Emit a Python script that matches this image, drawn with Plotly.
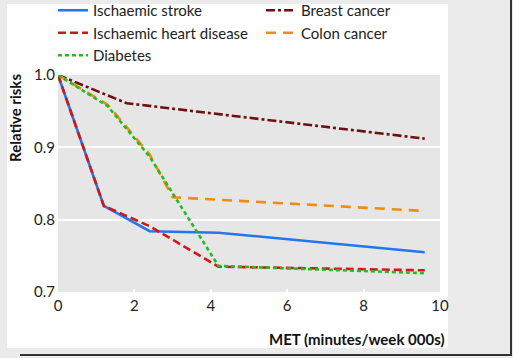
import plotly.graph_objects as go

# ---- data ----
stroke_x = [0, 1.2, 2.4, 4.2, 9.6]
stroke_y = [1.0, 0.819, 0.784, 0.782, 0.755]

breast_x = [0, 1.8, 9.6]
breast_y = [1.0, 0.961, 0.912]

ihd_x = [0, 1.2, 2.4, 4.2, 9.6]
ihd_y = [1.0, 0.819, 0.791, 0.735, 0.730]

colon_x = [0, 1.3, 2.4, 3.0, 9.6]
colon_y = [1.0, 0.959, 0.890, 0.831, 0.812]

diab_x = [0, 1.3, 2.4, 4.2, 9.6]
diab_y = [1.0, 0.957, 0.887, 0.736, 0.726]

x_ticks = [0, 2, 4, 6, 8, 10]
y_ticks = [0.7, 0.8, 0.9, 1.0]

W, H = 513, 358
L, R, T, B = 58, 73, 75, 66
PW, PH = W - L - R, H - T - B

def px(x):
    return (x - L) / PW

def py(y):
    return (H - B - y) / PH

FONT = "Lato"
FS = 15

fig = go.Figure()
series = [
    ("Ischaemic stroke", stroke_x, stroke_y, "#2277ee", "solid"),
    ("Breast cancer", breast_x, breast_y, "#6e1010", "9px,3px,3px,3px"),
    ("Ischaemic heart disease", ihd_x, ihd_y, "#d01818", "8px,4px"),
    ("Colon cancer", colon_x, colon_y, "#f08c10", "10px,7px"),
    ("Diabetes", diab_x, diab_y, "#22bb22", "4px,3px"),
]
for name, xs, ys, col, dash in series:
    fig.add_trace(go.Scatter(x=xs, y=ys, mode="lines", name=name,
                             line=dict(color=col, width=2.6, dash=dash)))

gray = "#ebebeb"
shapes = [
    dict(type="rect", xref="paper", yref="paper", x0=px(0), x1=px(7), y0=py(H), y1=py(0),
         fillcolor=gray, line=dict(width=0), layer="below"),
    dict(type="rect", xref="paper", yref="paper", x0=px(0), x1=px(W), y0=py(4), y1=py(0),
         fillcolor=gray, line=dict(width=0), layer="below"),
    dict(type="rect", xref="paper", yref="paper", x0=px(448), x1=px(W), y0=py(H), y1=py(0),
         fillcolor=gray, line=dict(width=0), layer="below"),
    dict(type="rect", xref="paper", yref="paper", x0=px(0), x1=px(W), y0=py(H), y1=py(348),
         fillcolor=gray, line=dict(width=0), layer="below"),
    dict(type="rect", xref="paper", yref="paper", x0=px(510), x1=px(512), y0=py(356), y1=py(0),
         fillcolor="#333333", line=dict(width=0), layer="below"),
    dict(type="rect", xref="paper", yref="paper", x0=px(20), x1=px(512), y0=py(356), y1=py(354),
         fillcolor="#333333", line=dict(width=0), layer="below"),
]

fig.update_layout(
    width=W, height=H,
    margin=dict(l=L, r=R, t=T, b=B, pad=0, autoexpand=False),
    paper_bgcolor="white",
    plot_bgcolor="#e6e6e6",
    font=dict(family=FONT, size=FS, color="#222222"),
    shapes=shapes,
    showlegend=True,
    legend=dict(orientation="h", xref="paper", yref="paper",
                x=px(53), y=py(-6), xanchor="left", yanchor="top",
                entrywidth=163, entrywidthmode="pixels",
                bgcolor="rgba(0,0,0,0)", borderwidth=0,
                font=dict(family=FONT, size=FS, color="#222222"),
                traceorder="normal"),
    xaxis=dict(range=[0, 10], tickvals=x_ticks, ticktext=[str(v) for v in x_ticks],
               showgrid=False, zeroline=False, showline=False,
               ticks="inside", ticklen=3, tickwidth=2, tickcolor="white",
               ticklabelstandoff=3,
               tickfont=dict(family=FONT, size=FS, color="#222222"), fixedrange=True),
    yaxis=dict(range=[0.7, 1.0], tickvals=y_ticks, ticktext=[f"{v:.1f}" for v in y_ticks],
               showgrid=True, gridcolor="white", gridwidth=2, zeroline=False, showline=False,
               ticks="", ticklabelstandoff=2,
               tickfont=dict(family=FONT, size=FS, color="#222222"), fixedrange=True),
    annotations=[
        dict(text="<b>Relative risks</b>", xref="paper", yref="paper",
             x=px(15), y=py(72), xanchor="center", yanchor="top", textangle=-90,
             showarrow=False, font=dict(family=FONT, size=FS, color="#111111")),
        dict(text="<b>MET (minutes/week 000s)</b>", xref="paper", yref="paper",
             x=px(447), y=py(339), xanchor="right", yanchor="middle",
             showarrow=False, font=dict(family=FONT, size=FS, color="#111111")),
    ],
)

fig.write_html("out.html", config={"displayModeBar": False},
               post_script="document.body.style.margin='0';document.body.style.overflow='hidden';")
